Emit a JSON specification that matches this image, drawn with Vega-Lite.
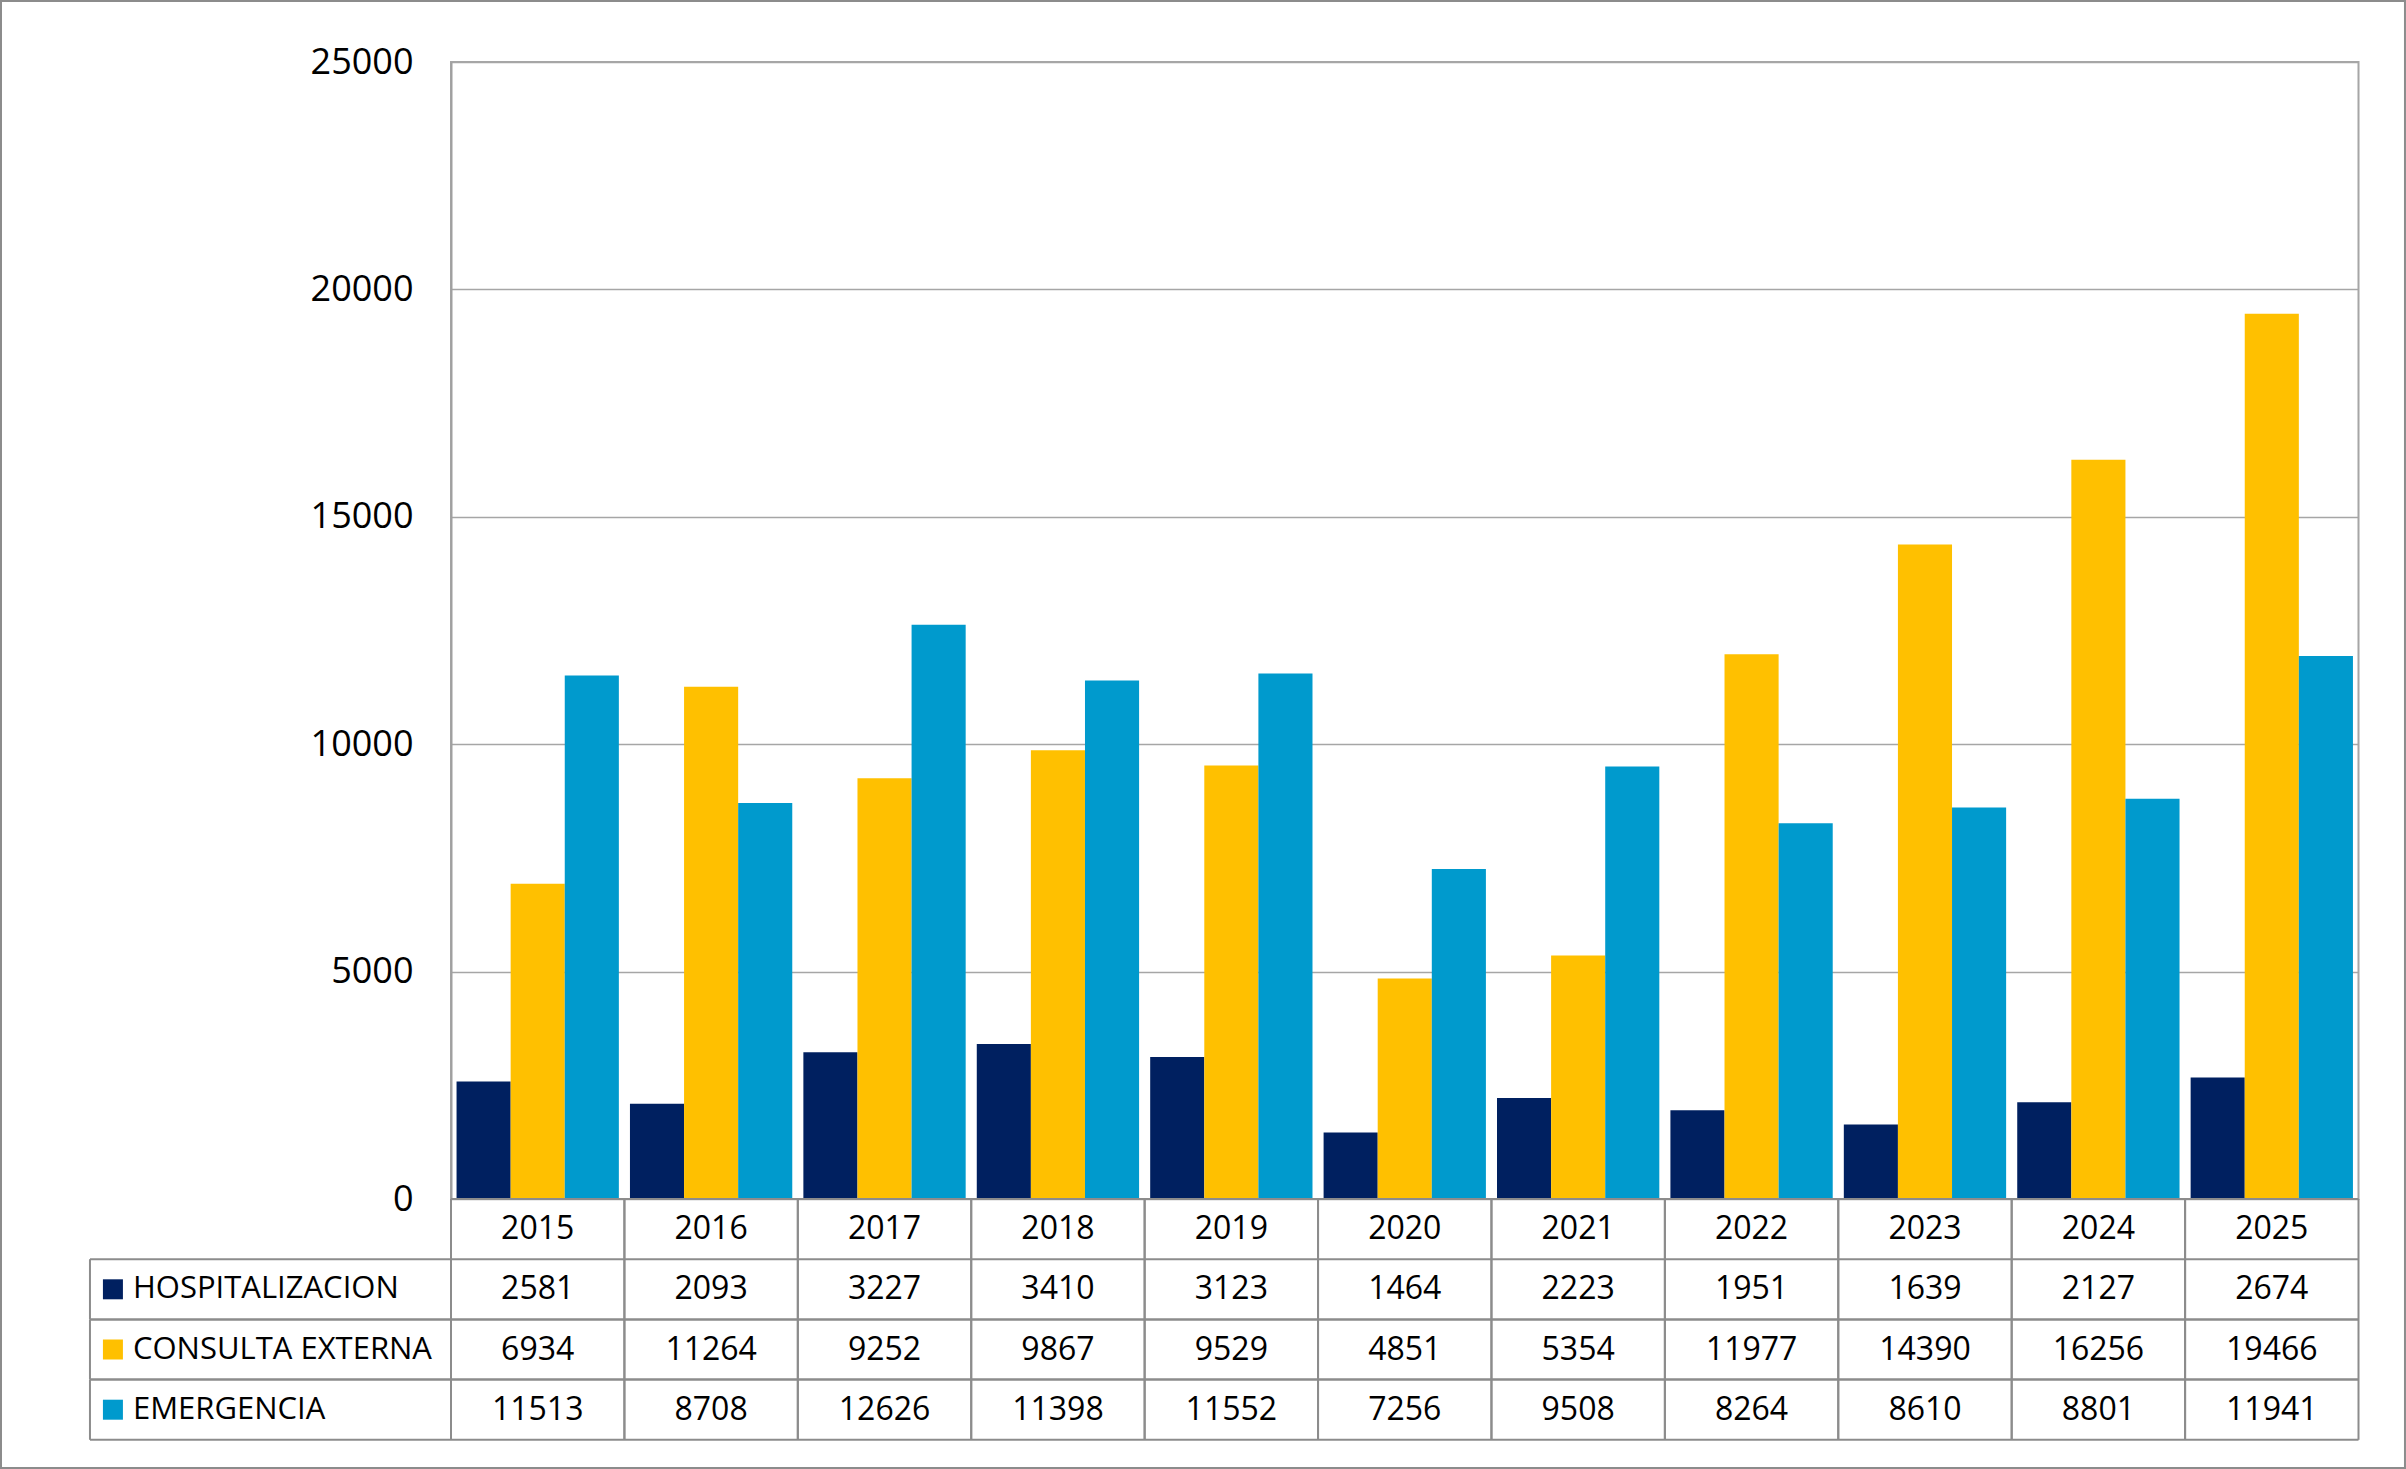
{
  "$schema": "https://vega.github.io/schema/vega-lite/v6.json",
  "width": 1907.5,
  "height": 1137,
  "autosize": {"type": "none"},
  "padding": {"left": 451, "top": 62, "right": 47.5, "bottom": 270},
  "background": "white",
  "config": {
    "view": {"stroke": "#a6a6a6", "strokeWidth": 2},
    "font": "Open Sans",
    "text": {"font": "Open Sans", "color": "#000000"}
  },
  "data": {
    "values": [
      {"year": 2015, "series": "HOSPITALIZACION", "value": 2581},
      {"year": 2016, "series": "HOSPITALIZACION", "value": 2093},
      {"year": 2017, "series": "HOSPITALIZACION", "value": 3227},
      {"year": 2018, "series": "HOSPITALIZACION", "value": 3410},
      {"year": 2019, "series": "HOSPITALIZACION", "value": 3123},
      {"year": 2020, "series": "HOSPITALIZACION", "value": 1464},
      {"year": 2021, "series": "HOSPITALIZACION", "value": 2223},
      {"year": 2022, "series": "HOSPITALIZACION", "value": 1951},
      {"year": 2023, "series": "HOSPITALIZACION", "value": 1639},
      {"year": 2024, "series": "HOSPITALIZACION", "value": 2127},
      {"year": 2025, "series": "HOSPITALIZACION", "value": 2674},
      {"year": 2015, "series": "CONSULTA EXTERNA", "value": 6934},
      {"year": 2016, "series": "CONSULTA EXTERNA", "value": 11264},
      {"year": 2017, "series": "CONSULTA EXTERNA", "value": 9252},
      {"year": 2018, "series": "CONSULTA EXTERNA", "value": 9867},
      {"year": 2019, "series": "CONSULTA EXTERNA", "value": 9529},
      {"year": 2020, "series": "CONSULTA EXTERNA", "value": 4851},
      {"year": 2021, "series": "CONSULTA EXTERNA", "value": 5354},
      {"year": 2022, "series": "CONSULTA EXTERNA", "value": 11977},
      {"year": 2023, "series": "CONSULTA EXTERNA", "value": 14390},
      {"year": 2024, "series": "CONSULTA EXTERNA", "value": 16256},
      {"year": 2025, "series": "CONSULTA EXTERNA", "value": 19466},
      {"year": 2015, "series": "EMERGENCIA", "value": 11513},
      {"year": 2016, "series": "EMERGENCIA", "value": 8708},
      {"year": 2017, "series": "EMERGENCIA", "value": 12626},
      {"year": 2018, "series": "EMERGENCIA", "value": 11398},
      {"year": 2019, "series": "EMERGENCIA", "value": 11552},
      {"year": 2020, "series": "EMERGENCIA", "value": 7256},
      {"year": 2021, "series": "EMERGENCIA", "value": 9508},
      {"year": 2022, "series": "EMERGENCIA", "value": 8264},
      {"year": 2023, "series": "EMERGENCIA", "value": 8610},
      {"year": 2024, "series": "EMERGENCIA", "value": 8801},
      {"year": 2025, "series": "EMERGENCIA", "value": 11941}
    ]
  },
  "transform": [
    {"calculate": "datum.year - 2015", "as": "col"},
    {"calculate": "indexof(['HOSPITALIZACION','CONSULTA EXTERNA','EMERGENCIA'], datum.series)", "as": "k"},
    {"calculate": "datum.col + 0.032 + datum.k * 0.312", "as": "bx"},
    {"calculate": "datum.bx + 0.312", "as": "bx2"},
    {"calculate": "datum.col + 0.5", "as": "cx"},
    {"calculate": "datum.col + 1", "as": "cr"},
    {"calculate": "-(datum.k + 1.5)", "as": "rowy"},
    {"calculate": "-(datum.k + 1)", "as": "rowt"},
    {"calculate": "-(datum.k + 2)", "as": "rowb"}
  ],
  "layer": [
    {
      "mark": {"type": "rect"},
      "encoding": {
        "x": {"field": "bx", "type": "quantitative", "scale": {"domain": [0, 11], "nice": false, "zero": false}, "axis": null},
        "x2": {"field": "bx2"},
        "y": {
          "field": "value", "type": "quantitative",
          "scale": {"domain": [0, 25000], "nice": false},
          "axis": {
            "values": [0, 5000, 10000, 15000, 20000, 25000],
            "format": "d", "title": null,
            "labelFont": "Open Sans", "labelFontSize": 36, "labelColor": "#000000",
            "ticks": false, "tickSize": 0, "labelPadding": 38,
            "domain": true, "domainColor": "#a0a0a0", "domainWidth": 2,
            "grid": true, "gridColor": "#a6a6a6", "gridWidth": 1.5
          }
        },
        "y2": {"datum": 0},
        "color": {
          "field": "series", "type": "nominal",
          "scale": {"domain": ["HOSPITALIZACION", "CONSULTA EXTERNA", "EMERGENCIA"], "range": ["#002060", "#FFC000", "#009ACD"]},
          "legend": null
        }
      }
    },
    {
      "transform": [{"filter": "datum.k == 0"}],
      "mark": {"type": "rule", "color": "#8c8c8c", "strokeWidth": 2},
      "encoding": {
        "x": {"field": "col", "type": "quantitative", "scale": {"domain": [0, 11], "nice": false, "zero": false}, "axis": null},
        "y": {"datum": 0, "type": "quantitative", "scale": {"domain": [0, 18.887], "nice": false, "zero": false}, "axis": null},
        "y2": {"datum": -4}
      }
    },
    {
      "transform": [{"filter": "datum.k == 0"}],
      "mark": {"type": "rule", "color": "#8c8c8c", "strokeWidth": 2},
      "encoding": {
        "x": {"field": "cr", "type": "quantitative", "scale": {"domain": [0, 11], "nice": false, "zero": false}, "axis": null},
        "y": {"datum": 0, "type": "quantitative", "scale": {"domain": [0, 18.887], "nice": false, "zero": false}, "axis": null},
        "y2": {"datum": -4}
      }
    },
    {
      "transform": [{"filter": "datum.col == 0"}],
      "mark": {"type": "rule", "color": "#8c8c8c", "strokeWidth": 2},
      "encoding": {
        "x": {"datum": -2.082, "type": "quantitative", "scale": {"domain": [0, 11], "nice": false, "zero": false}, "axis": null},
        "x2": {"datum": 11},
        "y": {"field": "rowt", "type": "quantitative", "scale": {"domain": [0, 18.887], "nice": false, "zero": false}, "axis": null}
      }
    },
    {
      "transform": [{"filter": "datum.col == 0"}],
      "mark": {"type": "rule", "color": "#8c8c8c", "strokeWidth": 2},
      "encoding": {
        "x": {"datum": -2.082, "type": "quantitative", "scale": {"domain": [0, 11], "nice": false, "zero": false}, "axis": null},
        "x2": {"datum": 11},
        "y": {"field": "rowb", "type": "quantitative", "scale": {"domain": [0, 18.887], "nice": false, "zero": false}, "axis": null}
      }
    },
    {
      "transform": [{"filter": "datum.col == 0"}],
      "mark": {"type": "rule", "color": "#8c8c8c", "strokeWidth": 2},
      "encoding": {
        "x": {"datum": -2.082, "type": "quantitative", "scale": {"domain": [0, 11], "nice": false, "zero": false}, "axis": null},
        "y": {"field": "rowt", "type": "quantitative", "scale": {"domain": [0, 18.887], "nice": false, "zero": false}, "axis": null},
        "y2": {"field": "rowb"}
      }
    },
    {
      "transform": [{"filter": "datum.col == 0 && datum.k == 0"}],
      "mark": {"type": "rule", "color": "#8c8c8c", "strokeWidth": 2},
      "encoding": {
        "x": {"datum": 0, "type": "quantitative", "scale": {"domain": [0, 11], "nice": false, "zero": false}, "axis": null},
        "x2": {"datum": 11},
        "y": {"datum": 0, "type": "quantitative", "scale": {"domain": [0, 18.887], "nice": false, "zero": false}, "axis": null}
      }
    },
    {
      "transform": [{"filter": "datum.k == 0"}],
      "mark": {"type": "text", "fontSize": 32, "align": "center", "baseline": "middle", "color": "#000000"},
      "encoding": {
        "x": {"field": "cx", "type": "quantitative", "scale": {"domain": [0, 11], "nice": false, "zero": false}, "axis": null},
        "y": {"datum": -0.5, "type": "quantitative", "scale": {"domain": [0, 18.887], "nice": false, "zero": false}, "axis": null},
        "text": {"field": "year", "type": "quantitative", "format": "d"}
      }
    },
    {
      "mark": {"type": "text", "fontSize": 32, "align": "center", "baseline": "middle", "color": "#000000"},
      "encoding": {
        "x": {"field": "cx", "type": "quantitative", "scale": {"domain": [0, 11], "nice": false, "zero": false}, "axis": null},
        "y": {"field": "rowy", "type": "quantitative", "scale": {"domain": [0, 18.887], "nice": false, "zero": false}, "axis": null},
        "text": {"field": "value", "type": "quantitative", "format": "d"}
      }
    },
    {
      "transform": [{"filter": "datum.col == 0"}],
      "mark": {"type": "square", "size": 400, "filled": true, "opacity": 1},
      "encoding": {
        "x": {"datum": -1.9496, "type": "quantitative", "scale": {"domain": [0, 11], "nice": false, "zero": false}, "axis": null},
        "y": {"field": "rowy", "type": "quantitative", "scale": {"domain": [0, 18.887], "nice": false, "zero": false}, "axis": null},
        "color": {"field": "series", "type": "nominal", "legend": null}
      }
    },
    {
      "transform": [{"filter": "datum.col == 0"}],
      "mark": {"type": "text", "fontSize": 31, "align": "left", "baseline": "middle", "color": "#000000"},
      "encoding": {
        "x": {"datum": -1.834, "type": "quantitative", "scale": {"domain": [0, 11], "nice": false, "zero": false}, "axis": null},
        "y": {"field": "rowy", "type": "quantitative", "scale": {"domain": [0, 18.887], "nice": false, "zero": false}, "axis": null},
        "text": {"field": "series", "type": "nominal"}
      }
    },
    {
      "transform": [{"filter": "datum.col == 0 && datum.k == 0"}],
      "mark": {"type": "rect", "fill": null, "filled": false, "stroke": "#8c8c8c", "strokeWidth": 2},
      "encoding": {
        "x": {"datum": -2.595, "type": "quantitative", "scale": {"domain": [0, 11], "nice": false, "zero": false}, "axis": null},
        "x2": {"datum": 11.268},
        "y": {"datum": 26341, "type": "quantitative", "scale": {"domain": [0, 25000], "nice": false}, "axis": null},
        "y2": {"datum": -5915}
      }
    }
  ],
  "resolve": {"scale": {"y": "independent"}}
}
